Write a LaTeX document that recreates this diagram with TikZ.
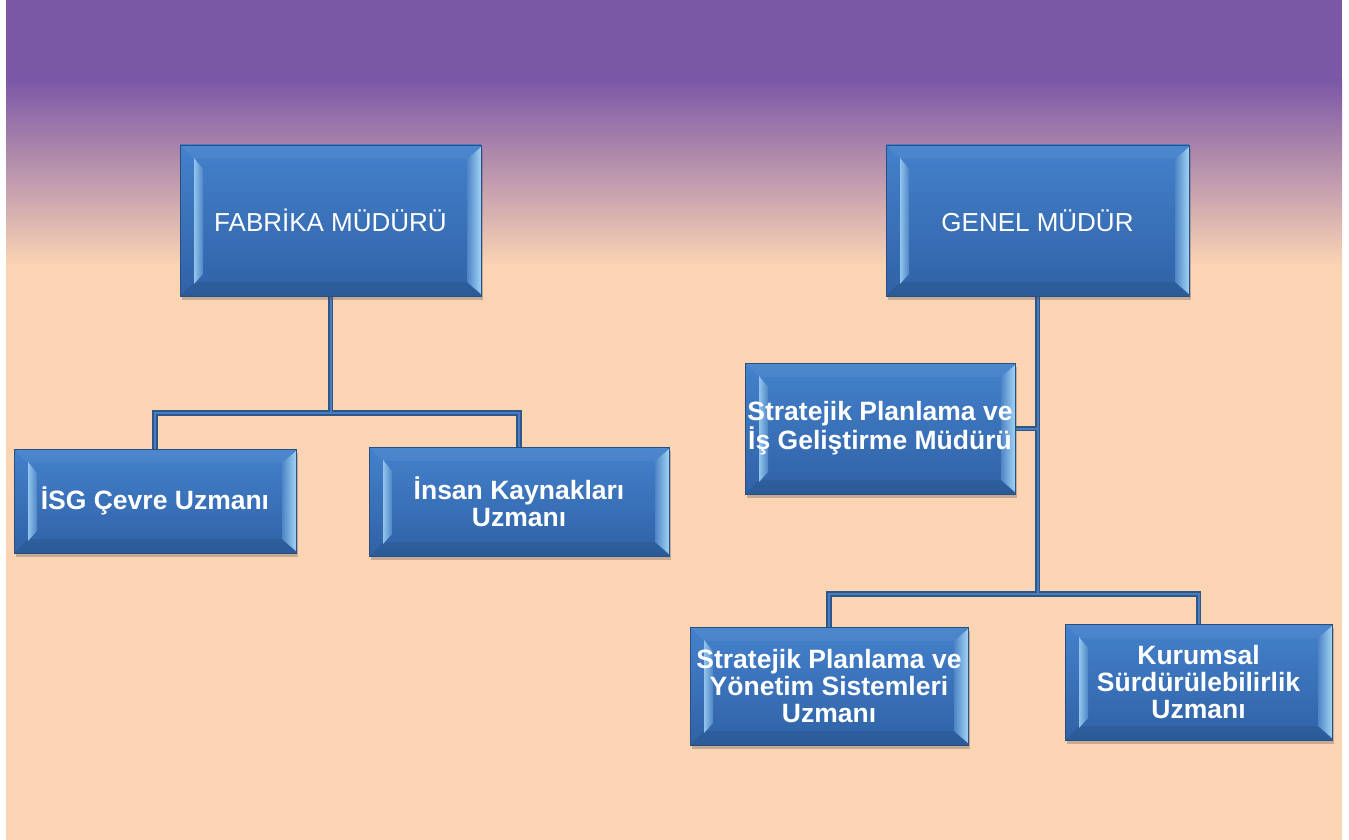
\documentclass[tikz,border=0pt]{standalone}
\usepackage{fontspec}
\setmainfont{Liberation Sans}
\usetikzlibrary{calc,shadows}
\definecolor{purp}{HTML}{7B58A6}
\definecolor{peach}{HTML}{FBD4B4}
\definecolor{facetop}{HTML}{4481CC}
\definecolor{facebot}{HTML}{3062A6}
\definecolor{facemid}{HTML}{3A71BA}
\definecolor{boxedge}{HTML}{2A4E80}
\definecolor{hl}{HTML}{A0D4F6}
\definecolor{lnout}{HTML}{2C578C}
\definecolor{lnin}{HTML}{4C7DBA}
\pgfdeclarelayer{back}
\pgfdeclarelayer{mid}
\pgfsetlayers{back,mid,main}
\tikzset{
  bevbox/.style={rectangle, draw=boxedge, line width=0.8pt,
    top color=facetop, bottom color=facebot, text=white, inner sep=0pt,
    align=center,
    drop shadow={shadow xshift=2pt, shadow yshift=-4pt, opacity=0.3, fill=black!70},
    path picture={
      \coordinate (nw) at (path picture bounding box.north west);
      \coordinate (ne) at (path picture bounding box.north east);
      \coordinate (sw) at (path picture bounding box.south west);
      \coordinate (se) at (path picture bounding box.south east);
      \fill[white,opacity=.05] (nw) -- (ne) -- ($(ne)+(-14pt,-14pt)$) -- ($(nw)+(14pt,-14pt)$) -- cycle;
      \fill[black,opacity=.08] (sw) -- (se) -- ($(se)+(-14pt,14pt)$) -- ($(sw)+(14pt,14pt)$) -- cycle;
      \shade[left color=hl!85!facemid, right color=hl!20!facemid]
        ($(nw)+(14pt,-13pt)$) -- ($(nw)+(23pt,-24pt)$) -- ($(sw)+(23pt,22pt)$) -- ($(sw)+(14pt,12pt)$) -- cycle;
      \shade[left color=hl!20!facemid, right color=hl]
        ($(ne)+(-14pt,-14pt)$) -- ($(ne)+(0pt,-2pt)$) -- ($(se)+(0pt,2pt)$) -- ($(se)+(-14pt,14pt)$) -- cycle;
    }},
  toptxt/.style={font=\fontsize{26}{27}\selectfont},
  subtxt/.style={font=\fontsize{26.5}{27}\selectfont\bfseries},
  connout/.style={draw=lnout, line width=5.5pt},
  connin/.style={draw=lnin, line width=2pt},
}
\newcommand{\treelinks}[1]{%
  \draw[#1] (fab.south) -- (fj);
  \draw[#1] (fj) -| (isg.north);
  \draw[#1] (fj) -| (ins.north);
  \draw[#1] (gen.south) -- (gj);
  \draw[#1] (stp.east) -- (stp.east -| gen.south);
  \draw[#1] (gj) -| (sps.north);
  \draw[#1] (gj) -| (kss.north);
}
\begin{document}
\begin{tikzpicture}[x=1pt,y=-1pt]
\useasboundingbox (0,0) rectangle (1349,840);
\begin{pgfonlayer}{back}
  \fill[white] (0,0) rectangle (1349,840);
  \fill[purp] (6,0) rectangle (1342,82);
  \shade[top color=purp, bottom color=peach] (6,80) rectangle (1342,266);
  \fill[peach] (6,265) rectangle (1342,840);
\end{pgfonlayer}

\node[bevbox, toptxt, minimum width=301pt, minimum height=151pt] (fab) at (330.5,220.5) {FABRİKA MÜDÜRÜ};
\node[bevbox, toptxt, minimum width=303pt, minimum height=151pt] (gen) at (1037.5,220.5) {GENEL MÜDÜR};
\node[bevbox, subtxt, minimum width=270pt, minimum height=131pt] (stp) at (880,428.5) {Stratejik Planlama ve\\İş Geliştirme Müdürü};
\node[bevbox, subtxt, minimum width=282pt, minimum height=104pt] (isg) at (155,501) {İSG Çevre Uzmanı};
\node[bevbox, subtxt, minimum width=300pt, minimum height=109pt] (ins) at (519,501.5) {İnsan Kaynakları\\Uzmanı};
\node[bevbox, subtxt, minimum width=278pt, minimum height=118pt] (sps) at (829,686) {Stratejik Planlama ve\\Yönetim Sistemleri\\Uzmanı};
\node[bevbox, subtxt, minimum width=267pt, minimum height=116pt] (kss) at (1198.5,682) {Kurumsal\\Sürdürülebilirlik\\Uzmanı};

\coordinate (fj) at (330.5,413);
\coordinate (gj) at (1037.5,594);

\begin{pgfonlayer}{mid}
  \treelinks{connout}
  \treelinks{connin}
\end{pgfonlayer}
\end{tikzpicture}
\end{document}
